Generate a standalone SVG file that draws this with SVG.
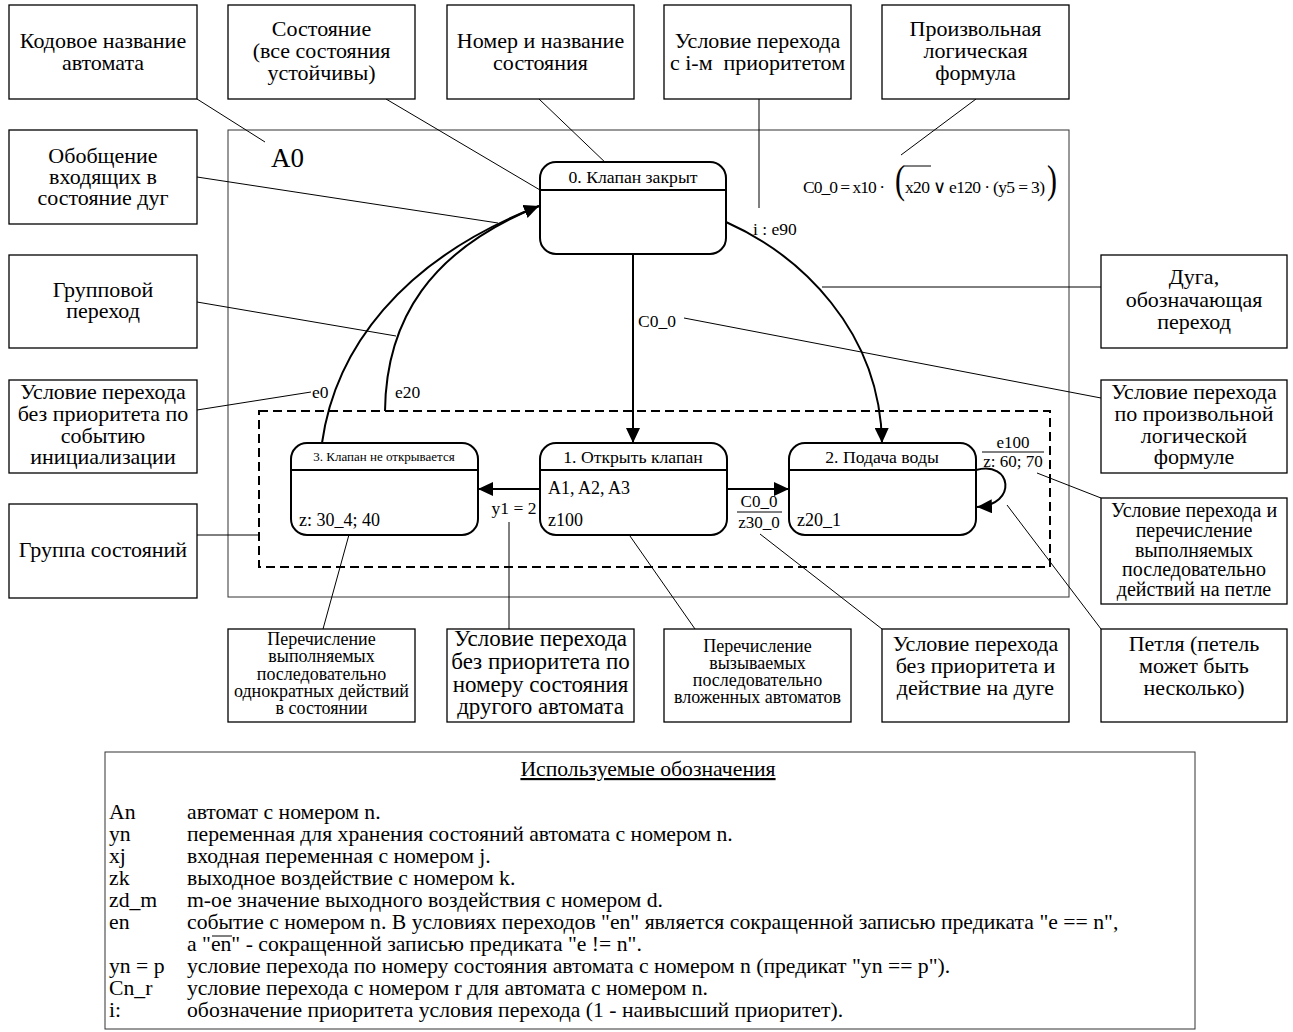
<svg xmlns="http://www.w3.org/2000/svg" width="1293" height="1032" viewBox="0 0 1293 1032">
<defs>
<style>
text{font-family:"Liberation Serif","Times New Roman",serif;fill:#000}
.b{fill:#fff;stroke:#000;stroke-width:1.3}
.t22{font-size:22px;text-anchor:middle}
.t23{font-size:23px;text-anchor:middle}
.t20{font-size:20px;text-anchor:middle}
.t18{font-size:18px;text-anchor:middle}
.st{fill:#fff;stroke:#000;stroke-width:2}
.hl{stroke:#000;stroke-width:2}
.arc{fill:none;stroke:#000;stroke-width:2}
.ld{fill:none;stroke:#000;stroke-width:1}
.lg{font-size:21.7px}
.sl{font-size:17.5px}
</style>
<marker id="ah" markerUnits="userSpaceOnUse" markerWidth="16" markerHeight="14" refX="15" refY="7" orient="auto">
<path d="M0,0 L15,7 L0,14 z" fill="#000"/>
</marker>
</defs>
<rect width="1293" height="1032" fill="#fff"/>

<!-- main frame -->
<rect x="228" y="130" width="841" height="467" fill="none" stroke="#333" stroke-width="1"/>
<text x="271" y="167" font-size="27">A0</text>

<!-- group -->
<g id="group">
<rect x="259" y="411" width="791" height="156" fill="none" stroke="#000" stroke-width="2" stroke-dasharray="9,5"/>
</g>

<!-- connectors -->
<g id="connectors">
<path class="arc" d="M 385 411 C 386 320, 430 250, 539 206"/>
<path class="arc" d="M 322 443 C 335 350, 400 260, 539 206" marker-end="url(#ah)"/>
<path class="arc" d="M 633 254 L 633 443" marker-end="url(#ah)"/>
<path class="arc" d="M 726 222 C 800 255, 880 330, 882 443" marker-end="url(#ah)"/>
<path class="arc" d="M 540 489 L 478 489" marker-end="url(#ah)"/>
<path class="arc" d="M 727 489 L 789 489" marker-end="url(#ah)"/>
<path class="arc" d="M 976 470 C 1012 460, 1018 505, 977 507" marker-end="url(#ah)"/>
<!-- leader lines -->
<path class="ld" d="M 197 99 L 265 142"/>
<path class="ld" d="M 386 99 L 540 190"/>
<path class="ld" d="M 539 99 L 609 166"/>
<path class="ld" d="M 759 99 L 759 208"/>
<path class="ld" d="M 976 99 L 901 155"/>
<path class="ld" d="M 197 177 L 498 223"/>
<path class="ld" d="M 197 302 L 396 336"/>
<path class="ld" d="M 197 410 L 311 392"/>
<path class="ld" d="M 197 535 L 259 535"/>
<path class="ld" d="M 822 287 L 1101 287"/>
<path class="ld" d="M 684 318 L 1101 398"/>
<path class="ld" d="M 1037 473 L 1101 498"/>
<path class="ld" d="M 350 531 L 323 629"/>
<path class="ld" d="M 509 522 L 509 629"/>
<path class="ld" d="M 602 496 L 695 629"/>
<path class="ld" d="M 760 534 L 882 629"/>
<path class="ld" d="M 1007 505 L 1101 629"/>
</g>

<!-- transition labels -->
<g id="labels">
<text class="sl" x="638" y="327">C0_0</text>
<text class="sl" x="753" y="235">i : e90</text>
<text class="sl" x="312" y="398">e0</text>
<text class="sl" x="395" y="398">e20</text>
<text class="sl" x="514" y="514" text-anchor="middle">y1 = 2</text>
<text x="759" y="507" font-size="17" text-anchor="middle">C0_0</text>
<line x1="737" y1="512" x2="782" y2="512" stroke="#000" stroke-width="1"/>
<text x="759" y="528" font-size="17" text-anchor="middle">z30_0</text>
<text x="1013" y="448" font-size="17" text-anchor="middle">e100</text>
<line x1="982" y1="452" x2="1044" y2="452" stroke="#000" stroke-width="1"/>
<text x="1013" y="467" font-size="17" text-anchor="middle">z: 60; 70</text>
<!-- formula -->
<text x="803" y="193" font-size="17.5" textLength="82" lengthAdjust="spacing">C0_0 = x10 ·</text>
<text x="895" y="193" font-size="30" transform="translate(895 193) scale(1 1.35) translate(-895 -193)">(</text>
<text x="905" y="193" font-size="17.5" textLength="140" lengthAdjust="spacing">x20 ∨ e120 · (y5 = 3)</text>
<line x1="904" y1="166" x2="931" y2="166" stroke="#000" stroke-width="1"/>
<text x="1047" y="193" font-size="30" transform="translate(1047 193) scale(1 1.35) translate(-1047 -193)">)</text>
</g>

<!-- states -->
<g id="state0">
<rect class="st" x="540" y="162" width="186" height="92" rx="16"/>
<line class="hl" x1="540" y1="190" x2="726" y2="190"/>
<text x="633" y="183" font-size="17.7" text-anchor="middle">0. Клапан закрыт</text>
</g>
<g id="state1">
<rect class="st" x="540" y="443" width="187" height="92" rx="16"/>
<line class="hl" x1="540" y1="470" x2="727" y2="470"/>
<text x="633" y="463" font-size="17.7" text-anchor="middle">1. Открыть клапан</text>
<text x="548" y="494" font-size="18">A1, A2, A3</text>
<text x="548" y="526" font-size="18">z100</text>
</g>
<g id="state2">
<rect class="st" x="789" y="443" width="187" height="92" rx="16"/>
<line class="hl" x1="789" y1="470" x2="976" y2="470"/>
<text x="882" y="463" font-size="17.7" text-anchor="middle">2. Подача воды</text>
<text x="797" y="526" font-size="18">z20_1</text>
</g>
<g id="state3">
<rect class="st" x="291" y="443" width="187" height="92" rx="16"/>
<line class="hl" x1="291" y1="470" x2="478" y2="470"/>
<text x="384" y="461" font-size="13" text-anchor="middle">3. Клапан не открывается</text>
<text x="299" y="526" font-size="18">z: 30_4; 40</text>
</g>

<!-- annotation boxes -->
<g id="n-kod"><rect class="b" x="9" y="5" width="188" height="94"/>
<text class="t22" x="103" y="48">Кодовое название</text><text class="t22" x="103" y="70">автомата</text></g>
<g id="n-sost"><rect class="b" x="228" y="5" width="187" height="94"/>
<text class="t22" x="321.5" y="36">Состояние</text><text class="t22" x="321.5" y="58">(все состояния</text><text class="t22" x="321.5" y="80">устойчивы)</text></g>
<g id="n-nomer"><rect class="b" x="447" y="5" width="187" height="94"/>
<text class="t22" x="540.5" y="48">Номер и название</text><text class="t22" x="540.5" y="70">состояния</text></g>
<g id="n-prior"><rect class="b" x="664" y="5" width="187" height="94"/>
<text class="t22" x="757.5" y="48">Условие перехода</text><text class="t22" x="757.5" y="70" style="white-space:pre">с i-м  приоритетом</text></g>
<g id="n-formula"><rect class="b" x="882" y="5" width="187" height="94"/>
<text class="t22" x="975.5" y="36">Произвольная</text><text class="t22" x="975.5" y="58">логическая</text><text class="t22" x="975.5" y="80">формула</text></g>

<g id="n-obob"><rect class="b" x="9" y="130" width="188" height="94"/>
<text class="t22" x="103" y="163">Обобщение</text><text class="t22" x="103" y="184">входящих в</text><text class="t22" x="103" y="205">состояние дуг</text></g>
<g id="n-grp"><rect class="b" x="9" y="255" width="188" height="93"/>
<text class="t22" x="103" y="297">Групповой</text><text class="t22" x="103" y="318">переход</text></g>
<g id="n-init"><rect class="b" x="9" y="380" width="188" height="93"/>
<text class="t22" x="103" y="399">Условие перехода</text><text class="t22" x="103" y="421">без приоритета по</text><text class="t22" x="103" y="443">событию</text><text class="t22" x="103" y="464">инициализации</text></g>
<g id="n-group"><rect class="b" x="9" y="504" width="188" height="94"/>
<text class="t22" x="103" y="557">Группа состояний</text></g>

<g id="n-duga"><rect class="b" x="1101" y="255" width="186" height="93"/>
<text class="t22" x="1194" y="284">Дуга,</text><text class="t22" x="1194" y="307">обозначающая</text><text class="t22" x="1194" y="329">переход</text></g>
<g id="n-logic"><rect class="b" x="1101" y="380" width="186" height="93"/>
<text class="t22" x="1194" y="399">Условие перехода</text><text class="t22" x="1194" y="421">по произвольной</text><text class="t22" x="1194" y="443">логической</text><text class="t22" x="1194" y="464">формуле</text></g>
<g id="n-loopcond"><rect class="b" x="1101" y="498" width="186" height="106"/>
<text class="t20" x="1194" y="517">Условие перехода и</text><text class="t20" x="1194" y="537">перечисление</text><text class="t20" x="1194" y="557">выполняемых</text><text class="t20" x="1194" y="576">последовательно</text><text class="t20" x="1194" y="596">действий на петле</text></g>

<g id="n-actions"><rect class="b" x="228" y="629" width="187" height="93"/>
<text class="t18" x="321.5" y="645">Перечисление</text><text class="t18" x="321.5" y="662">выполняемых</text><text class="t18" x="321.5" y="680">последовательно</text><text class="t18" x="321.5" y="697">однократных действий</text><text class="t18" x="321.5" y="714">в состоянии</text></g>
<g id="n-ycond"><rect class="b" x="447" y="629" width="187" height="93"/>
<text class="t23" x="540.5" y="646">Условие перехода</text><text class="t23" x="540.5" y="669">без приоритета по</text><text class="t23" x="540.5" y="692">номеру состояния</text><text class="t23" x="540.5" y="714">другого автомата</text></g>
<g id="n-nested"><rect class="b" x="664" y="629" width="187" height="93"/>
<text class="t18" x="757.5" y="652">Перечисление</text><text class="t18" x="757.5" y="669">вызываемых</text><text class="t18" x="757.5" y="686">последовательно</text><text class="t18" x="757.5" y="703">вложенных автоматов</text></g>
<g id="n-arcact"><rect class="b" x="882" y="629" width="187" height="93"/>
<text class="t22" x="975.5" y="651">Условие перехода</text><text class="t22" x="975.5" y="673">без приоритета и</text><text class="t22" x="975.5" y="695">действие на дуге</text></g>
<g id="n-loop"><rect class="b" x="1101" y="629" width="186" height="93"/>
<text class="t22" x="1194" y="651">Петля (петель</text><text class="t22" x="1194" y="673">может быть</text><text class="t22" x="1194" y="695">несколько)</text></g>

<!-- legend -->
<g id="legend">
<rect x="105" y="752" width="1090" height="277" fill="#fff" stroke="#333" stroke-width="1"/>
<text x="648" y="776" font-size="21.7" text-anchor="middle" text-decoration="underline">Используемые обозначения</text>
<text class="lg" x="109" y="819">An</text><text class="lg" x="187" y="819">автомат с номером n.</text>
<text class="lg" x="109" y="841">yn</text><text class="lg" x="187" y="841">переменная для хранения состояний автомата с номером n.</text>
<text class="lg" x="109" y="863">xj</text><text class="lg" x="187" y="863">входная переменная с номером j.</text>
<text class="lg" x="109" y="885">zk</text><text class="lg" x="187" y="885">выходное воздействие с номером k.</text>
<text class="lg" x="109" y="907">zd_m</text><text class="lg" x="187" y="907">m-ое значение выходного воздействия с номером d.</text>
<text class="lg" x="109" y="929">en</text><text class="lg" x="187" y="929">событие с номером n. В условиях переходов "en" является сокращенной записью предиката "e == n",</text>
<text class="lg" x="187" y="951">а "en" - сокращенной записью предиката "e != n".</text>
<line x1="212" y1="936" x2="232" y2="936" stroke="#000" stroke-width="1"/>
<text class="lg" x="109" y="973">yn = p</text><text class="lg" x="187" y="973">условие перехода по номеру состояния автомата с номером n (предикат "yn == p").</text>
<text class="lg" x="109" y="995">Cn_r</text><text class="lg" x="187" y="995">условие перехода с номером r для автомата с номером n.</text>
<text class="lg" x="109" y="1017">i:</text><text class="lg" x="187" y="1017">обозначение приоритета условия перехода (1 - наивысший приоритет).</text>
</g>
</svg>
